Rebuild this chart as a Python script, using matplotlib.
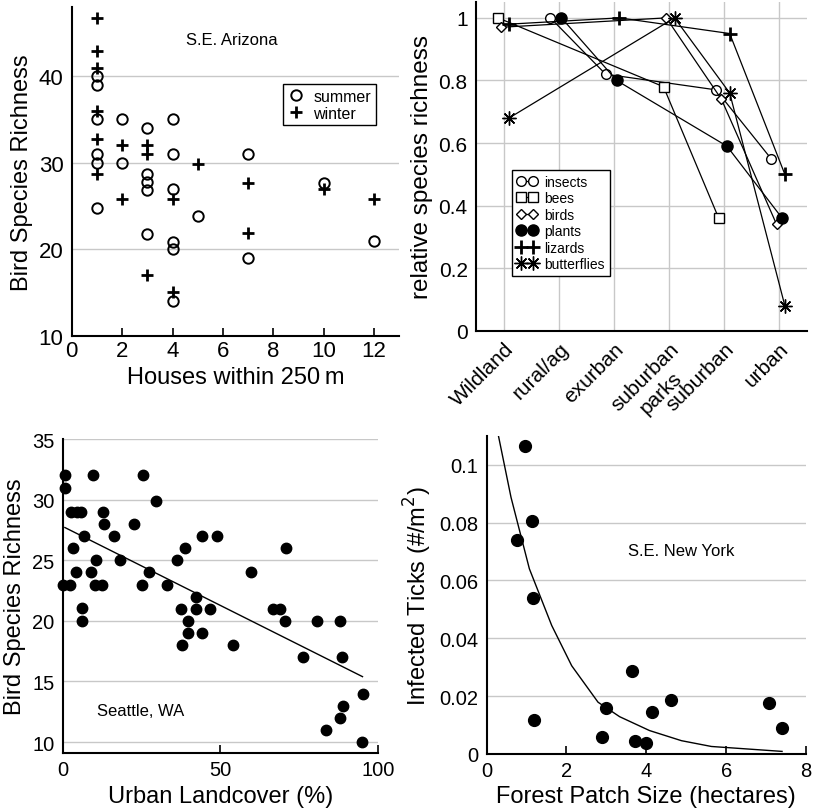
import matplotlib
matplotlib.use('Agg')
import matplotlib.pyplot as plt

plt.rcParams['font.family'] = ['Liberation Sans', 'DejaVu Sans']

# S.E. Arizona: birds vs houses
summer_houses = [1, 1, 1, 1, 1, 1, 2, 2, 3, 3, 3, 3, 3, 4, 4, 4, 4, 4, 4, 5, 7, 7, 10, 12]
summer_richness = [40, 39, 35, 31, 30, 24.8, 35, 30, 34, 28.7, 27.8, 26.8, 21.8,
                   35, 31, 27, 20.8, 20, 14, 23.8, 31, 19, 27.7, 21]
winter_houses = [1, 1, 1, 1, 1, 1, 2, 2, 3, 3, 3, 4, 4, 5, 7, 7, 10, 12]
winter_richness = [46.7, 42.9, 40.9, 36, 32.7, 28.7, 32, 25.8, 32, 31, 17,
                   25.8, 15, 29.8, 27.6, 21.9, 26.9, 25.8]

# relative species richness along the gradient
gradient = ['Wildland', 'rural/ag', 'exurban', 'suburban\nparks', 'suburban', 'urban']
insects = [None, 1.0, 0.82, None, 0.77, 0.55]
bees = [1.0, None, None, 0.78, 0.36, None]
birds = [0.97, None, None, 1.0, 0.74, 0.34]
plants = [None, 1.0, 0.80, None, 0.59, 0.36]
lizards = [0.98, None, 1.0, None, 0.95, 0.50]
butterflies = [0.68, None, None, 1.0, 0.76, 0.08]

# Seattle, WA
landcover = [0.85, 0.85, 9.5, 25.6, 29.6, 2.5, 4.5, 5.8, 12.9, 13.2, 22.5, 6.9, 16.3,
             3.4, 10.4, 18.2, 4.2, 9.1, 27.5, 0, 2.4, 10.3, 12.3, 25, 33.2, 6.1, 6.1,
             36.2, 38.9, 44.2, 49, 42.3, 37.6, 42.3, 46.6, 39.7, 39.7, 44.2, 37.9, 54.1,
             59.8, 66.7, 68.8, 70.7, 70.4, 80.7, 88, 76.2, 88.4, 95, 88.7, 88, 83.4, 94.7]
seattle_richness = [32, 31, 32, 32, 29.9, 29, 29, 29, 29, 28, 28, 27, 27,
                    26, 25, 25, 24, 24, 24, 23, 23, 23, 23, 23, 23, 21.1, 20,
                    25, 26, 27, 27, 22, 21, 21, 21, 20, 19, 19, 18, 18,
                    24, 21, 21, 26, 20, 20, 20, 17, 17, 14, 13, 12, 11, 10]
fit_x = [0.7, 95]
fit_y = [27.7, 15.4]

# S.E. New York ticks
patch_size = [0.96, 0.75, 1.13, 1.17, 1.19, 2.88, 3.0, 3.63, 3.71, 3.98, 4.14, 4.62, 7.08, 7.4]
infected_ticks = [0.1063, 0.0741, 0.0806, 0.0539, 0.0118, 0.0058, 0.0158, 0.0287,
                  0.0046, 0.0037, 0.0146, 0.0188, 0.0177, 0.009]
curve_x = [0.25, 0.61, 1.07, 1.63, 2.13, 2.79, 3.33, 4.08, 4.88, 5.63, 7.4]
curve_y = [0.113, 0.0887, 0.064, 0.0444, 0.0305, 0.0179, 0.0129, 0.0081, 0.0046, 0.0026, 0.0009]

grid_col = '#c8c8c8'


def style_axes(ax):
    for s in ['top', 'right']:
        ax.spines[s].set_visible(False)
    for s in ['left', 'bottom']:
        ax.spines[s].set_linewidth(1.5)
    ax.set_axisbelow(True)


fig = plt.figure(figsize=(8.13, 8.12), dpi=100)

# top left
ax1 = fig.add_axes([0.0882, 0.5853, 0.403, 0.405])
style_axes(ax1)
ax1.grid(axis='y', color=grid_col, linewidth=1)
ax1.plot(summer_houses, summer_richness, 'o', mfc='none', mec='black', ms=7.5, mew=1.4,
         label='summer', clip_on=False)
ax1.plot(winter_houses, winter_richness, '+', color='black', ms=8, mew=2, label='winter',
         clip_on=False)
ax1.set_xlim(0, 13)
ax1.set_ylim(10, 48)
ax1.set_xticks([0, 2, 4, 6, 8, 10, 12])
ax1.set_yticks([10, 20, 30, 40])
ax1.tick_params(axis='x', direction='in', length=6, width=1.2, labelsize=16, pad=3)
ax1.tick_params(axis='y', length=0, labelsize=16, pad=6)
ax1.set_xlabel('Houses within 250\u2009m', fontsize=17)
ax1.set_ylabel('Bird Species Richness', fontsize=17)
ax1.text(0.489, 0.9, 'S.E. Arizona', transform=ax1.transAxes, ha='center', va='center',
         fontsize=12)
leg1 = ax1.legend(loc='upper left', bbox_to_anchor=(0.645, 0.765), fontsize=11.5,
                  numpoints=1, handlelength=1.0, handletextpad=0.6, labelspacing=0.1,
                  borderpad=0.3, fancybox=False, edgecolor='black', framealpha=1,
                  borderaxespad=0)
leg1.get_frame().set_linewidth(1)

# top right
ax2 = fig.add_axes([0.5855, 0.5915, 0.407, 0.4045])
style_axes(ax2)
ax2.grid(color=grid_col, linewidth=1)
series = [
    ('insects', insects, -0.15, dict(marker='o', mfc='white', ms=7)),
    ('bees', bees, -0.1, dict(marker='s', mfc='white', ms=6.5)),
    ('birds', birds, -0.05, dict(marker='D', mfc='white', ms=5)),
    ('plants', plants, 0.05, dict(marker='o', mfc='black', ms=8)),
    ('lizards', lizards, 0.1, dict(marker='+', ms=10, mew=2)),
    ('butterflies', butterflies, 0.1, dict(marker=(8, 2, 0), ms=10, mew=1)),
]
for name, vals, off, mk in series:
    xs = [i + off for i, v in enumerate(vals) if v is not None]
    ys = [v for v in vals if v is not None]
    kw = dict(mec='black', mew=1)
    kw.update(mk)
    ax2.plot(xs, ys, '-', color='black', linewidth=0.9, label=name, clip_on=False, **kw)
ax2.set_xlim(-0.5, 5.5)
ax2.set_ylim(0, 1.05)
ax2.set_xticks(range(len(gradient)))
ax2.set_xticklabels(gradient, rotation=45, ha='right', va='top', rotation_mode='anchor',
                    multialignment='center')
ax2.set_yticks([0, 0.2, 0.4, 0.6, 0.8, 1.0])
ax2.set_yticklabels(['0', '0.2', '0.4', '0.6', '0.8', '1'])
ax2.tick_params(axis='x', length=0, labelsize=15, pad=6)
ax2.tick_params(axis='y', length=0, labelsize=15, pad=6)
ax2.set_ylabel('relative species richness', fontsize=17.5)
leg2 = ax2.legend(loc='upper left', bbox_to_anchor=(0.108, 0.49), fontsize=10,
                  numpoints=2, handlelength=1.5, handletextpad=0.5, labelspacing=0.18,
                  borderpad=0.35, fancybox=False, edgecolor='black', framealpha=1,
                  borderaxespad=0)
leg2.get_frame().set_linewidth(1)

# bottom left
ax3 = fig.add_axes([0.0771, 0.0714, 0.3882, 0.3867])
style_axes(ax3)
ax3.grid(axis='y', color=grid_col, linewidth=1)
ax3.plot(landcover, seattle_richness, 'o', color='black', ms=7.5, clip_on=False)
ax3.plot(fit_x, fit_y, '-', color='black', linewidth=1)
ax3.set_xlim(0, 100)
ax3.set_ylim(9.1, 35)
ax3.set_xticks([0, 50, 100])
ax3.set_yticks([10, 15, 20, 25, 30, 35])
ax3.tick_params(axis='x', direction='in', length=6, width=1.2, labelsize=14.5, pad=5)
ax3.tick_params(axis='y', length=0, labelsize=14.5, pad=6)
ax3.set_xlabel('Urban Landcover (%)', fontsize=17)
ax3.set_ylabel('Bird Species Richness', fontsize=17)
ax3.text(0.248, 0.134, 'Seattle, WA', transform=ax3.transAxes, ha='center', va='center',
         fontsize=12)

# bottom right
ax4 = fig.add_axes([0.5986, 0.0702, 0.3928, 0.392])
style_axes(ax4)
ax4.grid(axis='y', color=grid_col, linewidth=1)
ax4.plot(patch_size, infected_ticks, 'o', color='black', ms=8.5, clip_on=False)
ax4.plot(curve_x, curve_y, '-', color='black', linewidth=1)
ax4.set_xlim(0, 8)
ax4.set_ylim(0, 0.11)
ax4.set_xticks([0, 2, 4, 6, 8])
ax4.set_yticks([0, 0.02, 0.04, 0.06, 0.08, 0.1])
ax4.set_yticklabels(['0', '0.02', '0.04', '0.06', '0.08', '0.1'])
ax4.tick_params(axis='x', direction='in', length=6, width=1.2, labelsize=14.5, pad=5)
ax4.tick_params(axis='y', length=0, labelsize=14.5, pad=6)
ax4.set_xlabel('Forest Patch Size (hectares)', fontsize=17)
ax4.set_ylabel('Infected Ticks (#/m$^2$)', fontsize=17)
ax4.text(0.61, 0.638, 'S.E. New York', transform=ax4.transAxes, ha='center', va='center',
         fontsize=12)

fig.savefig('out.png', dpi=100)
